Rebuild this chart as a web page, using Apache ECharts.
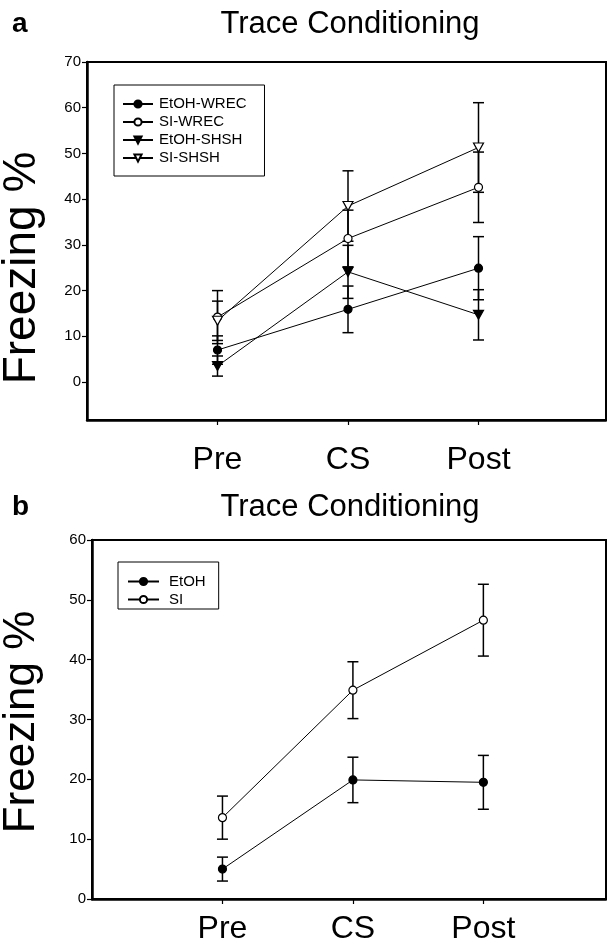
<!DOCTYPE html>
<html>
<head>
<meta charset="utf-8">
<script src="https://cdn.jsdelivr.net/npm/echarts@6/dist/echarts.min.js"></script>
<style>
html,body{margin:0;padding:0;background:#fff;}
#chart{width:607px;height:947px;}
</style>
</head>
<body>
<div id="chart"></div>
<script>
// ---- data ----
const categories = ['Pre', 'CS', 'Post'];
const catPos = [1, 2, 3];
const aTicks = [0, 10, 20, 30, 40, 50, 60, 70];
const bTicks = [0, 10, 20, 30, 40, 50, 60];

// Panel a
const aEtohWrec = [7.0, 15.9, 24.9];
const aEtohWrecSem = [3.1, 5.1, 6.9];
const aSiWrec = [14.2, 31.4, 42.6];
const aSiWrecSem = [5.8, 6.2, 7.7];
const aEtohShsh = [3.5, 24.1, 14.7];
const aEtohShshSem = [2.2, 5.8, 5.5];
const aSiShsh = [13.4, 38.5, 51.3];
const aSiShshSem = [4.3, 7.7, 9.8];

// Panel b
const bEtoh = [5.0, 19.9, 19.5];
const bEtohSem = [2.0, 3.8, 4.5];
const bSi = [13.6, 34.9, 46.6];
const bSiSem = [3.6, 4.75, 6.0];

// ---- chart ----
const FONT = '"Liberation Sans", Arial, Helvetica, sans-serif';
const triDown = 'path://M0,0 L10,0 L5,9 Z';

function pts(vals) { return vals.map((v, i) => [catPos[i], v]); }
function errs(vals, sems) { return vals.map((v, i) => [catPos[i], v - sems[i], v + sems[i]]); }

function lineSeries(name, vals, symbol, filled, size, gi) {
  return {
    name: name, type: 'line', data: pts(vals),
    xAxisIndex: gi, yAxisIndex: gi,
    symbol: symbol, symbolSize: size, showSymbol: true,
    lineStyle: { color: '#000', width: 1 },
    itemStyle: { color: filled ? '#000' : '#fff', borderColor: '#000', borderWidth: 1.2 },
    z: 5, animation: false, clip: false
  };
}
function errSeries(vals, sems, gi) {
  return {
    type: 'custom', xAxisIndex: gi, yAxisIndex: gi, z: 3, animation: false, silent: true,
    data: errs(vals, sems),
    renderItem: function (params, api) {
      const x = api.value(0);
      const lo = api.coord([x, api.value(1)]);
      const hi = api.coord([x, api.value(2)]);
      const hw = 5.5;
      const st = { stroke: '#000', lineWidth: 1.5 };
      return {
        type: 'group',
        children: [
          { type: 'line', shape: { x1: lo[0], y1: lo[1], x2: hi[0], y2: hi[1] }, style: st },
          { type: 'line', shape: { x1: lo[0] - hw, y1: lo[1], x2: lo[0] + hw, y2: lo[1] }, style: st },
          { type: 'line', shape: { x1: hi[0] - hw, y1: hi[1], x2: hi[0] + hw, y2: hi[1] }, style: st }
        ]
      };
    }
  };
}

function xAxisCfg(gi, max) {
  return {
    type: 'value', gridIndex: gi, min: 0, max: max,
    axisLine: { show: true, onZero: false, lineStyle: { color: '#000', width: 2.5 } },
    axisTick: { show: true, length: 5, inside: false, customValues: catPos, lineStyle: { color: '#000', width: 1.2 } },
    axisLabel: {
      customValues: catPos, color: '#000', fontFamily: FONT, fontSize: 32,
      margin: gi === 0 ? 24 : 14,
      formatter: function (v) { return categories[Math.round(v) - 1] || ''; }
    },
    splitLine: { show: false }
  };
}
function yAxisCfg(gi, min, max, ticks) {
  return {
    type: 'value', gridIndex: gi, min: min, max: max,
    axisLine: { show: true, onZero: false, lineStyle: { color: '#000', width: 2.5 } },
    axisTick: { show: true, length: 5, inside: false, customValues: ticks, lineStyle: { color: '#000', width: 1.2 } },
    axisLabel: { customValues: ticks, color: '#000', fontFamily: FONT, fontSize: 15, margin: 6 },
    splitLine: { show: false }
  };
}

const chart = echarts.init(document.getElementById('chart'), null, { renderer: 'canvas' });
const option = {
  backgroundColor: '#fff',
  animation: false,
  grid: [
    { left: 87, top: 62, width: 519, height: 358, show: true, borderColor: '#000', borderWidth: 2, backgroundColor: 'transparent' },
    { left: 92, top: 540, width: 514, height: 359, show: true, borderColor: '#000', borderWidth: 2, backgroundColor: 'transparent' }
  ],
  xAxis: [xAxisCfg(0, 3.977), xAxisCfg(1, 3.94)],
  yAxis: [yAxisCfg(0, -8.3, 70, aTicks), yAxisCfg(1, 0, 60, bTicks)],
  legend: [
    {
      left: 114, top: 85, orient: 'vertical', itemWidth: 30, itemHeight: 9, itemGap: 3,
      padding: [11.5, 18, 10.5, 8],
      borderColor: '#000', borderWidth: 1, backgroundColor: '#fff',
      textStyle: { fontFamily: FONT, fontSize: 15, color: '#000', lineHeight: 14, padding: [0, 0, 0, 1] },
      data: ['EtOH-WREC', 'SI-WREC', 'EtOH-SHSH', 'SI-SHSH'],
      selectedMode: false
    },
    {
      left: 118, top: 562, orient: 'vertical', itemWidth: 31, itemHeight: 9, itemGap: 3,
      padding: [12, 13, 2, 9],
      borderColor: '#000', borderWidth: 1, backgroundColor: '#fff',
      textStyle: { fontFamily: FONT, fontSize: 15, color: '#000', lineHeight: 14, padding: [0, 0, 0, 5] },
      data: ['EtOH', 'SI'],
      selectedMode: false
    }
  ],
  series: [
    errSeries(aEtohWrec, aEtohWrecSem, 0),
    errSeries(aSiWrec, aSiWrecSem, 0),
    errSeries(aEtohShsh, aEtohShshSem, 0),
    errSeries(aSiShsh, aSiShshSem, 0),
    lineSeries('EtOH-WREC', aEtohWrec, 'circle', true, 8, 0),
    lineSeries('SI-WREC', aSiWrec, 'circle', false, 8, 0),
    lineSeries('EtOH-SHSH', aEtohShsh, triDown, true, [10, 9], 0),
    lineSeries('SI-SHSH', aSiShsh, triDown, false, [10, 9], 0),
    errSeries(bEtoh, bEtohSem, 1),
    errSeries(bSi, bSiSem, 1),
    lineSeries('EtOH', bEtoh, 'circle', true, 8, 1),
    lineSeries('SI', bSi, 'circle', false, 8, 1)
  ],
  graphic: [
    { type: 'text', x: 12, y: 24, style: { text: 'a', font: 'bold 28px ' + FONT, fill: '#000', textAlign: 'left', textVerticalAlign: 'middle' } },
    { type: 'text', x: 350, y: 24, style: { text: 'Trace Conditioning', font: '31px ' + FONT, fill: '#000', textAlign: 'center', textVerticalAlign: 'middle' } },
    { type: 'text', x: 12, y: 507, style: { text: 'b', font: 'bold 28px ' + FONT, fill: '#000', textAlign: 'left', textVerticalAlign: 'middle' } },
    { type: 'text', x: 350, y: 507, style: { text: 'Trace Conditioning', font: '31px ' + FONT, fill: '#000', textAlign: 'center', textVerticalAlign: 'middle' } },
    { type: 'text', x: 22, y: 268, rotation: Math.PI / 2, style: { text: 'Freezing %', font: '46px ' + FONT, fill: '#000', textAlign: 'center', textVerticalAlign: 'middle' } },
    { type: 'text', x: 22, y: 722, rotation: Math.PI / 2, style: { text: 'Freezing %', font: '44px ' + FONT, fill: '#000', textAlign: 'center', textVerticalAlign: 'middle' } }
  ]
};
chart.setOption(option);
</script>
</body>
</html>
